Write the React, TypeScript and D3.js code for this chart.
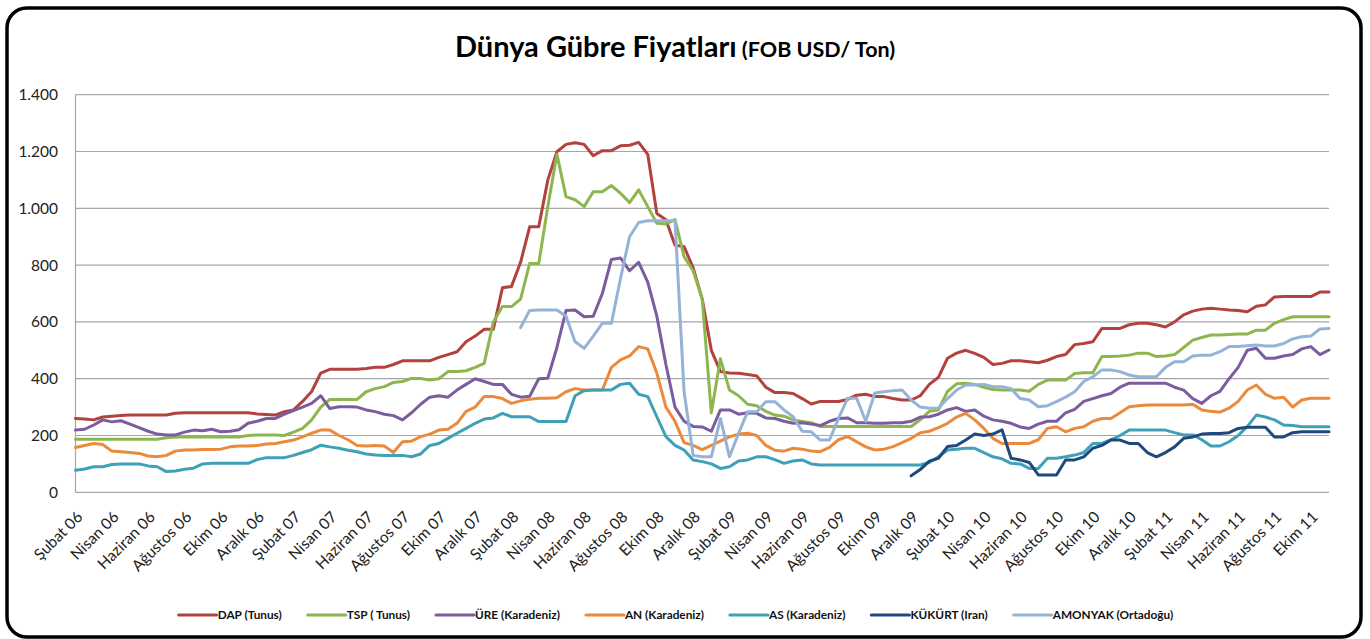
import React, { useEffect, useRef } from 'react';
import * as d3 from 'd3';

// x axis labels, one every two months (data is half-monthly, Şubat 06 .. Ekim 11)
const xLabels = [
  'Şubat 06', 'Nisan 06', 'Haziran 06', 'Ağustos 06', 'Ekim 06', 'Aralık 06',
  'Şubat 07', 'Nisan 07', 'Haziran 07', 'Ağustos 07', 'Ekim 07', 'Aralık 07',
  'Şubat 08', 'Nisan 08', 'Haziran 08', 'Ağustos 08', 'Ekim 08', 'Aralık 08',
  'Şubat 09', 'Nisan 09', 'Haziran 09', 'Ağustos 09', 'Ekim 09', 'Aralık 09',
  'Şubat 10', 'Nisan 10', 'Haziran 10', 'Ağustos 10', 'Ekim 10', 'Aralık 10',
  'Şubat 11', 'Nisan 11', 'Haziran 11', 'Ağustos 11', 'Ekim 11',
];
const periodsPerLabel = 4;
const periodCount = 139;

const yTicks = [0, 200, 400, 600, 800, 1000, 1200, 1400];

// USD / ton, half-monthly
const dapValues = [
  260, 258, 255, 265, 268, 270, 272, 272, 272, 272, 272, 278, 280, 280, 280, 280, 280, 280, 280, 280, 276, 274, 272, 284, 290,
  320, 355, 420, 433, 433, 433, 433, 436, 440, 440, 450, 463, 463, 463, 463, 475, 485, 495, 530, 550, 574, 574, 720, 725, 810, 935,
  935, 1100, 1199, 1225, 1231, 1225, 1185, 1203, 1203, 1220, 1222, 1232, 1190, 982, 960, 870, 865, 790, 680, 500, 425, 420, 419, 415, 410,
  370, 351, 351, 348, 330, 311, 320, 320, 320, 327, 342, 345, 337, 337, 330, 325, 325, 340, 380, 405, 472, 490, 500, 489, 475,
  450, 454, 463, 463, 460, 456, 465, 478, 485, 520, 524, 530, 577, 577, 577, 590, 595, 595, 590, 582, 600, 625, 638, 645, 648, 645,
  642, 640, 636, 655, 660, 688, 689, 689, 689, 689, 705, 705,
];
const tspValues = [
  187, 187, 187, 187, 187, 187, 187, 187, 187, 187, 192, 195, 195, 195, 195, 195, 195, 195, 195, 200, 202, 202, 202, 200, 212,
  225, 255, 300, 327, 327, 327, 327, 354, 365, 372, 387, 390, 401, 401, 395, 400, 425, 425, 428, 440, 454, 600, 654, 654, 680, 806,
  806, 1006, 1190, 1041, 1030, 1006, 1058, 1058, 1080, 1053, 1020, 1065, 1006, 947, 945, 960, 830, 780, 680, 280, 470, 360, 340, 310, 305,
  285, 272, 268, 255, 249, 245, 232, 232, 232, 232, 232, 232, 232, 232, 232, 232, 232, 255, 285, 290, 355, 382, 384, 380, 370,
  362, 360, 360, 360, 356, 380, 395, 395, 395, 418, 421, 421, 478, 478, 480, 483, 490, 490, 478, 480, 485, 510, 536, 545, 554, 554,
  556, 557, 557, 571, 571, 595, 608, 618, 618, 618, 618, 618,
];
const ureValues = [
  219, 222, 237, 255, 248, 252, 240, 228, 215, 205, 202, 202, 212, 219, 217, 222, 213, 215, 220, 243, 250, 260, 260, 275, 288,
  300, 313, 340, 295, 301, 301, 300, 290, 284, 275, 270, 255, 280, 310, 335, 340, 335, 360, 380, 400, 390, 380, 380, 345, 335, 338,
  400, 402, 510, 640, 642, 618, 620, 700, 820, 825, 780, 810, 740, 620, 450, 300, 250, 232, 230, 215, 290, 290, 275, 280, 278,
  262, 260, 250, 243, 245, 240, 235, 250, 260, 262, 245, 245, 243, 243, 245, 245, 250, 265, 266, 275, 290, 298, 285, 290, 268,
  255, 250, 243, 230, 225, 240, 250, 250, 280, 292, 320, 330, 340, 348, 370, 384, 384, 384, 384, 384, 370, 360, 330, 313, 340, 355,
  400, 440, 500, 507, 472, 472, 480, 485, 505, 513, 485, 501,
];
const anValues = [
  158, 165, 172, 168, 145, 143, 140, 137, 128, 125, 130, 145, 149, 149, 151, 151, 152, 160, 163, 163, 165, 170, 172, 178, 184,
  195, 208, 219, 219, 200, 185, 165, 163, 165, 163, 140, 178, 180, 196, 205, 219, 222, 243, 285, 300, 337, 337, 330, 313, 322, 328,
  331, 331, 333, 354, 365, 360, 360, 360, 440, 466, 480, 513, 505, 420, 300, 250, 175, 165, 150, 165, 180, 195, 205, 208, 200,
  165, 148, 145, 155, 152, 145, 143, 158, 185, 196, 178, 160, 149, 152, 161, 175, 190, 210, 215, 228, 243, 265, 278, 255, 225,
  190, 172, 172, 172, 172, 185, 225, 231, 213, 225, 231, 250, 260, 260, 280, 301, 305, 307, 307, 307, 307, 307, 310, 290, 285, 282,
  296, 320, 360, 378, 345, 331, 335, 300, 325, 331, 331, 331,
];
const asValues = [
  78, 82, 90, 90, 98, 100, 100, 100, 93, 90, 73, 75, 81, 85, 100, 102, 102, 102, 102, 102, 115, 122, 122, 122, 130,
  140, 150, 166, 160, 155, 148, 143, 135, 131, 130, 130, 130, 125, 135, 165, 172, 190, 208, 225, 243, 258, 262, 278, 266, 266, 266,
  249, 249, 249, 249, 340, 358, 360, 360, 360, 380, 384, 345, 337, 266, 196, 165, 149, 114, 108, 100, 84, 90, 110, 114, 125,
  125, 115, 102, 110, 114, 100, 96, 96, 96, 96, 96, 96, 96, 96, 96, 96, 96, 96, 105, 125, 149, 152, 155, 155, 140,
  125, 118, 102, 100, 84, 84, 120, 120, 125, 131, 140, 172, 172, 185, 200, 219, 219, 219, 219, 219, 210, 202, 202, 185, 163, 163,
  178, 200, 231, 272, 265, 255, 237, 235, 231, 231, 231, 231,
];
// KÜKÜRT starts Aralık 09
const kukurtStart = 92;
const kukurtValues = [
  58, 80, 110, 120, 161, 165, 184, 205, 200,
  205, 220, 120, 114, 105, 61, 61, 61, 114, 114, 125, 155, 165, 184, 184, 172, 172, 140, 125, 140, 160, 190, 195, 205, 207, 207,
  210, 225, 229, 229, 229, 195, 195, 210, 213, 213, 213, 213,
];
// AMONYAK starts Şubat 08
const amonyakStart = 49;
const amonyakValues = [
  580, 640, 642, 642, 642, 620, 530, 507, 550, 595, 595, 753, 900, 950, 956, 956, 956, 956, 354, 130, 125, 125, 260, 125, 208, 284, 284,
  319, 319, 290, 266, 215, 213, 184, 184, 260, 331, 331, 250, 350, 354, 358, 360, 325, 300, 296, 296, 330, 360, 378, 378, 380,
  372, 372, 365, 330, 325, 301, 305, 319, 335, 354, 390, 407, 431, 431, 425, 413, 407, 407, 407, 440, 460, 460, 480, 483, 483, 495,
  513, 513, 516, 519, 515, 515, 524, 540, 548, 550, 575, 577,
];

const series = [
  { name: 'DAP (Tunus)', color: '#B3413E', start: 0, values: dapValues },
  { name: 'TSP ( Tunus)', color: '#8DB64E', start: 0, values: tspValues },
  { name: 'ÜRE (Karadeniz)', color: '#7B5C9F', start: 0, values: ureValues },
  { name: 'AN (Karadeniz)', color: '#EC8A3C', start: 0, values: anValues },
  { name: 'AS (Karadeniz)', color: '#3FA1B8', start: 0, values: asValues },
  { name: 'KÜKÜRT (Iran)', color: '#1F497D', start: kukurtStart, values: kukurtValues },
  { name: 'AMONYAK (Ortadoğu)', color: '#95B3D7', start: amonyakStart, values: amonyakValues },
];

const W = 1370;
const H = 639;
const FONT = "Lato, 'Open Sans', sans-serif";

export default function App() {
  const svgRef = useRef<SVGSVGElement>(null);

  useEffect(() => {
    if (!svgRef.current) return;
    const svg = d3.select(svgRef.current);
    svg.selectAll('*').remove();

    const plot = { left: 75.5, right: 1329, top: 94.7, bottom: 492.3 };
    const x = d3.scaleLinear().domain([0, periodCount - 1]).range([plot.left, plot.right]);
    const y = d3.scaleLinear().domain([0, 1400]).range([plot.bottom, plot.top]);
    const trFormat = d3.formatLocale({ decimal: ',', thousands: '.', grouping: [3], currency: ['', ''] }).format(',');

    svg.append('rect').attr('width', W).attr('height', H).attr('fill', '#fff');

    // outer frame
    svg.append('rect')
      .attr('x', 7).attr('y', 8).attr('width', 1354).attr('height', 629)
      .attr('rx', 20).attr('ry', 20)
      .attr('fill', '#fff').attr('stroke', '#000').attr('stroke-width', 3.5);

    // title
    const title = svg.append('text')
      .attr('x', 455).attr('y', 57)
      .attr('font-family', FONT).attr('font-weight', 700).attr('fill', '#000');
    title.append('tspan').attr('font-size', 29).text('Dünya Gübre Fiyatları');
    title.append('tspan').attr('font-size', 21.5).text(' (FOB USD/ Ton)');

    // grid
    svg.append('g').selectAll('line')
      .data(yTicks.filter(d => d > 0))
      .enter().append('line')
      .attr('x1', plot.left).attr('x2', plot.right)
      .attr('y1', d => y(d)).attr('y2', d => y(d))
      .attr('stroke', '#a6a6a6').attr('stroke-width', 1.2);

    // axis lines
    svg.append('line')
      .attr('x1', plot.left).attr('x2', plot.right)
      .attr('y1', y(0)).attr('y2', y(0))
      .attr('stroke', '#a6a6a6').attr('stroke-width', 1.2);
    svg.append('line')
      .attr('x1', plot.left).attr('x2', plot.left)
      .attr('y1', y(0)).attr('y2', y(1400))
      .attr('stroke', '#a6a6a6').attr('stroke-width', 1.2);

    // y labels
    svg.append('g').selectAll('text')
      .data(yTicks)
      .enter().append('text')
      .attr('x', 58).attr('y', d => y(d))
      .attr('dy', '0.35em')
      .attr('text-anchor', 'end')
      .attr('font-family', FONT).attr('font-size', 15.5).attr('fill', '#222')
      .text(d => trFormat(d));

    // x labels
    svg.append('g').selectAll('text')
      .data(xLabels)
      .enter().append('text')
      .attr('transform', (d, k) => `translate(${x(k * periodsPerLabel) + 8},${518}) rotate(-45)`)
      .attr('text-anchor', 'end')
      .attr('font-family', FONT).attr('font-size', 15.5).attr('fill', '#222')
      .text(d => d);

    // series lines
    series.forEach(s => {
      const pts = s.values.map((v, j) => ({ i: s.start + j, v }));
      const l = d3.line<{ i: number; v: number }>()
        .x(d => x(d.i))
        .y(d => y(d.v))
        .curve(d3.curveLinear);
      svg.append('path')
        .datum(pts)
        .attr('d', l)
        .attr('fill', 'none')
        .attr('stroke', s.color)
        .attr('stroke-width', 3)
        .attr('stroke-linejoin', 'round')
        .attr('stroke-linecap', 'round');
    });

    // legend
    const legend = svg.append('g');
    let cursor = 0;
    const lineLen = 38;
    const gap = 26;
    series.forEach(s => {
      const item = legend.append('g').attr('transform', `translate(${cursor},0)`);
      item.append('line')
        .attr('x1', 0).attr('x2', lineLen).attr('y1', 0).attr('y2', 0)
        .attr('stroke', s.color).attr('stroke-width', 3.2).attr('stroke-linecap', 'round');
      const t = item.append('text')
        .attr('x', lineLen + 1).attr('y', 0).attr('dy', '0.35em')
        .attr('font-family', FONT).attr('font-size', 11.8).attr('font-weight', 700).attr('fill', '#111')
        .text(s.name);
      const w = (t.node() as SVGTextElement).getComputedTextLength();
      cursor += lineLen + 1 + w + gap;
    });
    const total = cursor - gap;
    legend.attr('transform', `translate(${676 - total / 2},615)`);
  }, []);

  return (
    <svg
      ref={svgRef}
      width={W}
      height={H}
      viewBox={`0 0 ${W} ${H}`}
      style={{ position: 'absolute', left: 0, top: 0, display: 'block' }}
    />
  );
}
